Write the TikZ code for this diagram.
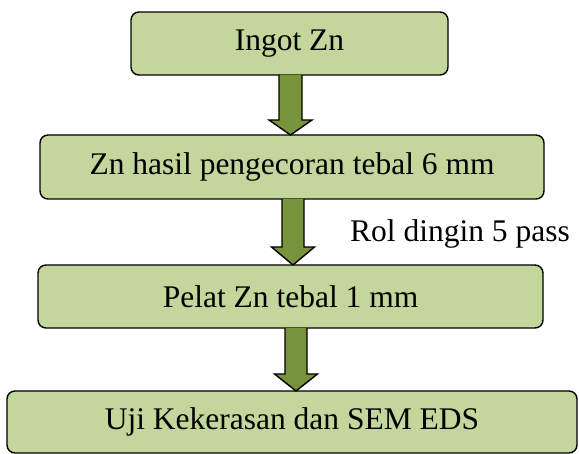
\documentclass[tikz,border=0pt]{standalone}
\usepackage{fontspec}
\setmainfont{Liberation Serif}
\usetikzlibrary{calc}
\definecolor{boxgreen}{HTML}{C3D69B}
\definecolor{arrgreen}{HTML}{77933C}
\tikzset{
  stepbox/.style={draw=black, line width=1.4pt, fill=boxgreen, rounded corners=8pt,
    inner sep=0pt, outer sep=0pt, font=\fontsize{31.5}{36}\selectfont},
  blockarrow/.style={draw=black, line width=1.4pt, fill=arrgreen, line join=miter},
  lbl/.style={font=\fontsize{31.5}{36}\selectfont, inner sep=0pt}
}
\newcommand\blockarr[5]{% #1 x, #2 from, #3 to, #4 shaft half width, #5 head length
  \path (#1,0) coordinate (ax);
  \path (ax |- #2.south) coordinate (as) (ax |- #3.north) coordinate (at);
  \draw[blockarrow] ($(as)+(-#4,0)$) -- ($(at)+(-#4,-#5)$) -- ($(at)+(-21.5,-#5)$) -- (at)
     -- ($(at)+(21.5,-#5)$) -- ($(at)+(#4,-#5)$) -- ($(as)+(#4,0)$);
}
\begin{document}
\begin{tikzpicture}[x=1pt,y=-1pt]
\useasboundingbox (0,0) rectangle (579,454);
\node[stepbox, minimum width=317pt, minimum height=63pt] (b1) at (289.5,43.5) {Ingot Zn};
\node[stepbox, minimum width=504pt, minimum height=64pt] (b2) at (292,167) {Zn hasil pengecoran tebal 6 mm};
\node[stepbox, minimum width=505pt, minimum height=63pt] (b3) at (290.5,296.5) {Pelat Zn tebal 1 mm};
\node[stepbox, minimum width=570pt, minimum height=62pt] (b4) at (292,422) {Uji Kekerasan dan SEM EDS};
\node[lbl, anchor=base west] (rol) at (350,242) {Rol dingin 5 pass};
\blockarr{290.5}{b1}{b2}{11.5}{15}
\blockarr{293}{b2}{b3}{11}{18}
\blockarr{296}{b3}{b4}{11}{17}
\end{tikzpicture}
\end{document}
